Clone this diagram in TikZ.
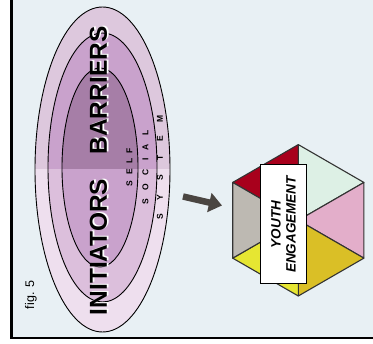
\documentclass[tikz,border=0pt]{standalone}
\usepackage{fontspec}
\setmainfont{Liberation Sans}
\usetikzlibrary{arrows.meta}
\definecolor{panel}{HTML}{E8F0F4}
\definecolor{outerup}{HTML}{DDC8DD}
\definecolor{outerlo}{HTML}{EEDFEE}
\definecolor{midup}{HTML}{C9A2CC}
\definecolor{midlo}{HTML}{DCBFDC}
\definecolor{innerup}{HTML}{A67EA7}
\definecolor{innerlo}{HTML}{C9A2CC}
\definecolor{arrowgray}{HTML}{4A4541}
\definecolor{hexred}{HTML}{A8001C}
\definecolor{hexgreen}{HTML}{DDF0E5}
\definecolor{hexpink}{HTML}{E3AECA}
\definecolor{hexgold}{HTML}{DABF26}
\definecolor{hexyellow}{HTML}{E6E632}
\definecolor{hexgray}{HTML}{BDB9B2}
\tikzset{
  ring/.style={draw=black, line width=0.9pt},
  bigword/.style={rotate=90, inner sep=0pt, font=\fontsize{24.5}{24.5}\selectfont\bfseries},
  smallword/.style={rotate=90, inner sep=0pt, font=\fontsize{8.5}{8.5}\selectfont\bfseries},
  hexface/.style={draw=black!80, line width=1.1pt, line join=round},
  labelbox/.style={draw=black, line width=1pt, fill=white, minimum width=46.7pt, minimum height=119pt, inner sep=0pt},
}
\begin{document}
\begin{tikzpicture}[x=1pt, y=-1pt]
\useasboundingbox (0,0) rectangle (373,344);
\clip (0,0) rectangle (373,344);
% panel with its left and bottom rule
\fill[white] (0,0) rectangle (373,344);
\draw[fill=panel, line width=2.6pt] (11.5,-10) rectangle (390,338);

% nested ellipses: lighter lower tones, darker upper half on top
\fill[outerlo] (102.5,169.5) ellipse [x radius=67.5pt, y radius=162.5pt];
\fill[midlo] (102.5,167.5) ellipse [x radius=54.5pt, y radius=134.5pt];
\fill[innerlo] (100,167.5) ellipse [x radius=38pt, y radius=99.5pt];
\begin{scope}
  \clip (0,0) rectangle (373,169);
  \fill[outerup] (102.5,169.5) ellipse [x radius=67.5pt, y radius=162.5pt];
  \fill[midup] (102.5,167.5) ellipse [x radius=54.5pt, y radius=134.5pt];
  \fill[innerup] (100,167.5) ellipse [x radius=38pt, y radius=99.5pt];
\end{scope}
\draw[ring] (102.5,169.5) ellipse [x radius=67.5pt, y radius=162.5pt];
\draw[ring] (102.5,167.5) ellipse [x radius=54.5pt, y radius=134.5pt];
\draw[ring] (100,167.5) ellipse [x radius=38pt, y radius=99.5pt];

% headline words with a white offset copy behind
\node[bigword, text=white] (barriersbg) at (100.3,89.5) {BARRIERS};
\node[bigword] (barriers) at (98.5,90.5) {BARRIERS};
\node[bigword, text=white] (initiatorsbg) at (100.3,246) {INITIATORS};
\node[bigword] (initiators) at (98.5,247) {INITIATORS};

% ring labels
\node[smallword] (self) at (129.5,167) {S\kern5.5pt E\kern5.5pt L\kern5.5pt F};
\node[smallword] (social) at (145.5,167.5) {S\kern8.5pt O\kern8.5pt C\kern8.5pt I\kern8.5pt A\kern8.5pt L};
\node[smallword] (system) at (160,167.5) {S\kern14pt Y\kern14pt S\kern14pt T\kern14pt E\kern14pt M};

\node[rotate=90, inner sep=0pt, font=\fontsize{12.5}{12.5}\selectfont] (fig) at (31,295) {fig. 5};

% hexagon of six triangular faces
\coordinate (hc) at (298.3,220.3);
\coordinate (ht) at (298.3,144.6);
\coordinate (hur) at (363.9,182.45);
\coordinate (hlr) at (363.9,258.15);
\coordinate (hb) at (298.3,296);
\coordinate (hll) at (232.7,258.15);
\coordinate (hul) at (232.7,182.45);
\filldraw[hexface, fill=hexred] (hc) -- (hul) -- (ht) -- cycle;
\filldraw[hexface, fill=hexgreen] (hc) -- (ht) -- (hur) -- cycle;
\filldraw[hexface, fill=hexpink] (hc) -- (hur) -- (hlr) -- cycle;
\filldraw[hexface, fill=hexgold] (hc) -- (hlr) -- (hb) -- cycle;
\filldraw[hexface, fill=hexyellow] (hc) -- (hb) -- (hll) -- cycle;
\filldraw[hexface, fill=hexgray] (hc) -- (hll) -- (hul) -- cycle;

\node[labelbox] (box) at (283.4,224.5) {};
\node[rotate=90, align=center, inner sep=0pt, font=\fontsize{13.5}{15}\selectfont\bfseries\itshape] (youth) at (box.center) {YOUTH\\ENGAGEMENT};

% arrow from the rings to the hexagon
\coordinate (arrowstart) at (183,196.5);
\coordinate (arrowend) at (222,205.5);
\draw[arrowgray, line width=6.5pt, -{Triangle[length=13pt, width=19pt]}] (arrowstart) -- (arrowend);
\end{tikzpicture}
\end{document}
